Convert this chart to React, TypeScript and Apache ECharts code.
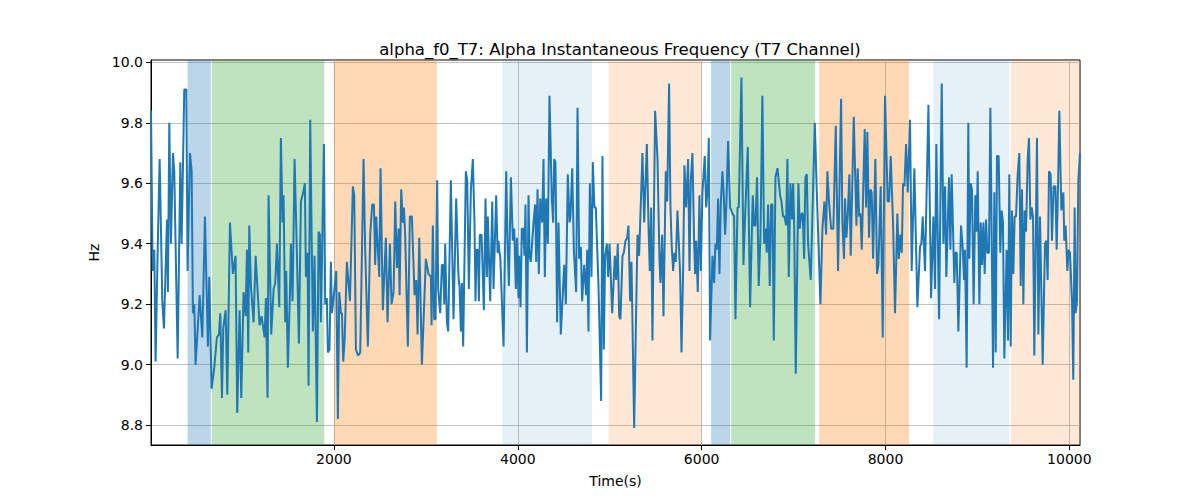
import React, { useEffect, useRef } from "react";
import * as echarts from "echarts";

const titleText = "alpha_f0_T7: Alpha Instantaneous Frequency (T7 Channel)";
const xTicks = [2000, 4000, 6000, 8000, 10000];
const yTicks = [8.8, 9.0, 9.2, 9.4, 9.6, 9.8, 10.0];

const bandStart = [408, 673, 2000, 3834, 4987, 6103, 6321, 7278, 8521, 9362];
const bandEnd = [662, 1895, 3120, 4806, 6002, 6310, 7234, 8257, 9347, 10116];
const bandKind = ["blue", "green", "orange", "paleBlue", "paleOrange", "blue", "green", "orange", "paleBlue", "paleOrange"];

// [time (s), frequency (Hz)]
const alphaF0: [number, number][] = [
  [10, 9.84], [28, 9.31], [46, 9.38], [60, 9.01], [82, 9.37], [104, 9.68], [133, 9.21], [151, 9.12],
  [184, 9.48], [194, 9.24], [209, 9.80], [227, 9.40], [249, 9.70], [263, 9.64], [300, 9.02], [329, 9.67],
  [343, 9.40], [372, 9.91], [394, 9.91], [408, 9.31], [434, 9.70], [452, 9.64], [466, 9.17], [481, 9.20],
  [495, 9.00], [539, 9.23], [568, 9.09], [597, 9.49], [629, 9.06], [644, 9.29], [669, 8.92], [698, 8.99],
  [727, 9.09], [749, 9.10], [764, 9.17], [782, 8.89], [796, 9.12], [822, 9.18], [840, 8.90], [869, 9.47],
  [901, 9.30], [930, 9.36], [948, 8.84], [974, 9.18], [992, 8.89], [1017, 9.24], [1039, 9.16], [1054, 9.38],
  [1068, 9.04], [1079, 9.46], [1097, 9.26], [1126, 9.14], [1148, 9.36], [1191, 9.13], [1213, 9.16], [1246, 9.09],
  [1260, 9.22], [1278, 8.89], [1289, 9.56], [1318, 9.10], [1344, 9.25], [1362, 9.27], [1380, 9.40], [1405, 9.19],
  [1423, 9.75], [1441, 9.47], [1452, 9.56], [1470, 9.14], [1481, 9.31], [1499, 8.99], [1521, 9.23], [1532, 9.40],
  [1550, 9.21], [1572, 9.68], [1597, 9.37], [1619, 9.07], [1641, 9.54], [1666, 9.57], [1684, 9.60], [1695, 9.29],
  [1713, 9.37], [1724, 8.93], [1742, 9.81], [1760, 9.37], [1771, 9.11], [1789, 9.36], [1815, 8.81], [1833, 9.44],
  [1847, 9.43], [1858, 9.14], [1891, 9.73], [1905, 9.20], [1923, 9.22], [1934, 9.04], [1952, 9.05], [1967, 9.34],
  [1978, 9.17], [1996, 9.22], [2025, 9.31], [2043, 8.82], [2058, 9.24], [2076, 9.17], [2087, 9.17], [2101, 9.01],
  [2116, 9.08], [2141, 9.34], [2174, 9.21], [2206, 9.59], [2221, 9.56], [2239, 9.05], [2261, 9.03], [2286, 9.04],
  [2322, 9.68], [2340, 9.38], [2369, 9.06], [2395, 9.43], [2416, 9.53], [2435, 9.53], [2449, 9.33], [2460, 9.49],
  [2493, 9.29], [2507, 9.65], [2532, 9.18], [2565, 9.42], [2583, 9.14], [2609, 9.40], [2627, 9.20], [2649, 9.24],
  [2667, 9.54], [2685, 9.32], [2703, 9.45], [2714, 9.23], [2732, 9.58], [2750, 9.47], [2761, 9.52], [2775, 9.43],
  [2804, 9.06], [2826, 9.49], [2848, 9.49], [2877, 9.23], [2895, 9.28], [2910, 9.10], [2928, 9.42], [2957, 9.00],
  [3000, 9.35], [3029, 9.30], [3055, 9.29], [3062, 9.13], [3076, 9.46], [3091, 9.15], [3105, 9.15], [3123, 9.61],
  [3134, 9.25], [3156, 9.17], [3174, 9.33], [3189, 9.33], [3200, 9.20], [3210, 9.40], [3229, 9.14], [3243, 9.11],
  [3272, 9.61], [3301, 9.15], [3330, 9.55], [3355, 9.29], [3366, 9.26], [3381, 9.11], [3392, 9.27], [3406, 9.06],
  [3435, 9.64], [3450, 9.61], [3468, 9.25], [3490, 9.58], [3511, 9.68], [3529, 9.47], [3540, 9.21], [3551, 9.38],
  [3566, 9.38], [3577, 9.21], [3587, 9.43], [3606, 9.43], [3631, 9.18], [3649, 9.55], [3664, 9.29], [3674, 9.49],
  [3700, 9.21], [3722, 9.54], [3736, 9.25], [3765, 9.56], [3780, 9.37], [3790, 9.41], [3801, 9.37], [3809, 9.36],
  [3845, 9.06], [3874, 9.64], [3888, 9.41], [3903, 9.26], [3925, 9.62], [3946, 9.41], [3961, 9.45], [3979, 9.25],
  [3990, 9.42], [4008, 9.22], [4015, 9.36], [4030, 9.19], [4044, 9.45], [4059, 9.45], [4073, 9.36], [4084, 9.53],
  [4099, 9.04], [4117, 9.56], [4128, 9.36], [4142, 9.34], [4171, 9.47], [4189, 9.53], [4200, 9.34], [4215, 9.58],
  [4229, 9.30], [4244, 9.55], [4265, 9.47], [4280, 9.68], [4294, 9.29], [4309, 9.55], [4327, 9.40], [4345, 9.89],
  [4370, 9.55], [4385, 9.47], [4396, 9.68], [4410, 9.67], [4428, 9.14], [4443, 9.47], [4468, 9.10], [4505, 9.33],
  [4523, 9.20], [4544, 9.63], [4563, 9.47], [4573, 9.49], [4592, 9.65], [4610, 9.38], [4635, 9.24], [4650, 9.85],
  [4668, 9.35], [4686, 9.39], [4700, 9.21], [4722, 9.33], [4744, 9.23], [4755, 9.38], [4769, 9.11], [4784, 9.60],
  [4802, 9.29], [4816, 9.67], [4834, 9.52], [4849, 9.52], [4878, 9.26], [4907, 8.88], [4921, 9.69], [4936, 9.05],
  [4950, 9.36], [4969, 9.40], [4983, 9.29], [4998, 9.40], [5027, 9.17], [5045, 9.29], [5056, 9.36], [5070, 9.28],
  [5088, 9.40], [5103, 9.16], [5117, 9.15], [5139, 9.36], [5153, 9.37], [5172, 9.41], [5190, 9.42], [5204, 9.46],
  [5222, 9.21], [5237, 9.34], [5266, 8.79], [5302, 9.43], [5320, 9.36], [5338, 9.53], [5356, 9.70], [5375, 9.47],
  [5404, 9.73], [5422, 9.46], [5436, 9.31], [5451, 9.52], [5465, 9.08], [5494, 9.84], [5520, 9.68], [5541, 9.35],
  [5552, 9.27], [5570, 9.43], [5585, 9.16], [5610, 9.64], [5625, 9.54], [5646, 9.93], [5661, 9.52], [5675, 9.39],
  [5690, 9.31], [5704, 9.37], [5719, 9.34], [5737, 9.51], [5766, 9.30], [5781, 9.04], [5799, 9.32], [5813, 9.66],
  [5831, 9.52], [5853, 9.68], [5868, 9.31], [5882, 9.61], [5900, 9.70], [5918, 9.41], [5929, 9.30], [5940, 9.41],
  [5958, 9.24], [5976, 9.56], [5991, 9.31], [6009, 9.57], [6034, 9.69], [6049, 9.52], [6063, 9.57], [6078, 9.75],
  [6092, 9.08], [6118, 9.36], [6136, 9.27], [6150, 9.40], [6165, 9.38], [6179, 9.55], [6194, 9.30], [6208, 9.53],
  [6226, 9.64], [6241, 9.56], [6255, 9.43], [6270, 9.54], [6288, 9.74], [6310, 9.52], [6335, 9.50], [6353, 9.49],
  [6368, 9.15], [6390, 9.52], [6404, 9.52], [6433, 9.95], [6455, 9.33], [6469, 9.46], [6502, 9.72], [6527, 9.19],
  [6556, 9.56], [6571, 9.46], [6585, 9.46], [6603, 9.62], [6621, 9.26], [6640, 9.43], [6661, 9.89], [6680, 9.40],
  [6694, 9.45], [6709, 9.37], [6723, 9.53], [6741, 9.26], [6756, 9.53], [6770, 9.53], [6785, 9.08], [6803, 9.62],
  [6825, 9.65], [6854, 9.56], [6868, 9.54], [6886, 9.49], [6901, 9.49], [6919, 9.46], [6933, 9.68], [6948, 9.29],
  [6966, 9.60], [6984, 9.48], [6995, 9.60], [7006, 9.48], [7024, 8.97], [7042, 9.38], [7053, 9.60], [7067, 9.45],
  [7086, 9.50], [7100, 9.50], [7115, 9.35], [7129, 9.62], [7144, 9.63], [7158, 9.40], [7187, 9.28], [7231, 9.80],
  [7252, 9.58], [7292, 9.20], [7314, 9.45], [7336, 9.54], [7354, 9.43], [7368, 9.64], [7386, 9.54], [7408, 9.45],
  [7433, 9.45], [7459, 9.79], [7484, 9.31], [7517, 9.88], [7531, 9.47], [7549, 9.35], [7560, 9.55], [7575, 9.42],
  [7589, 9.49], [7607, 9.63], [7622, 9.36], [7655, 9.82], [7684, 9.46], [7698, 9.65], [7713, 9.49], [7727, 9.50],
  [7742, 9.38], [7774, 9.78], [7789, 9.52], [7803, 9.77], [7821, 9.42], [7836, 9.58], [7850, 9.57], [7865, 9.35],
  [7890, 9.68], [7908, 9.30], [7923, 9.33], [7948, 9.59], [7970, 9.09], [7995, 9.89], [8024, 9.54], [8039, 9.54],
  [8057, 9.69], [8082, 9.47], [8104, 9.17], [8129, 9.50], [8144, 9.35], [8162, 9.43], [8177, 9.37], [8191, 9.60],
  [8206, 9.59], [8224, 9.73], [8242, 9.57], [8267, 9.81], [8285, 9.31], [8314, 9.65], [8347, 9.19], [8376, 9.39],
  [8390, 9.40], [8405, 9.49], [8430, 9.31], [8467, 9.86], [8496, 9.22], [8521, 9.49], [8539, 9.25], [8553, 9.73],
  [8583, 9.15], [8612, 9.93], [8630, 9.40], [8648, 9.59], [8662, 9.29], [8691, 9.62], [8706, 9.38], [8720, 9.63],
  [8749, 9.27], [8760, 9.37], [8775, 9.37], [8793, 9.11], [8822, 9.46], [8840, 9.39], [8854, 9.28], [8865, 9.38],
  [8883, 8.99], [8901, 9.80], [8912, 9.35], [8927, 9.60], [8941, 9.58], [8959, 9.20], [8977, 9.56], [8992, 9.44],
  [9003, 9.64], [9021, 9.20], [9036, 9.47], [9050, 9.33], [9065, 9.47], [9079, 9.30], [9094, 9.48], [9108, 9.37],
  [9126, 9.37], [9141, 9.85], [9170, 8.99], [9184, 9.57], [9199, 9.04], [9213, 9.69], [9231, 9.69], [9249, 9.37],
  [9264, 9.51], [9278, 9.47], [9293, 9.02], [9318, 9.38], [9333, 9.08], [9347, 9.63], [9362, 9.06], [9376, 9.51],
  [9391, 9.30], [9405, 9.49], [9420, 9.49], [9438, 9.63], [9456, 9.70], [9471, 9.26], [9485, 9.58], [9500, 9.20],
  [9514, 9.51], [9529, 9.44], [9547, 9.68], [9561, 9.75], [9576, 9.48], [9590, 9.52], [9605, 9.49], [9619, 9.03],
  [9648, 9.75], [9663, 9.10], [9681, 9.49], [9710, 9.00], [9735, 9.40], [9750, 9.41], [9764, 9.28], [9779, 9.64],
  [9797, 9.63], [9811, 9.41], [9829, 9.59], [9848, 9.59], [9862, 9.38], [9877, 9.59], [9891, 9.84], [9913, 9.51],
  [9935, 9.57], [9945, 9.41], [9960, 9.46], [9978, 9.31], [9993, 9.38], [10007, 9.37], [10029, 9.21], [10043, 8.95],
  [10058, 9.52], [10069, 9.17], [10083, 9.21], [10098, 9.61], [10116, 9.70],
];

const bandColor: Record<string, string> = {
  blue: "rgba(31,119,180,0.3)",
  green: "rgba(44,160,44,0.3)",
  orange: "rgba(255,127,14,0.3)",
  paleBlue: "rgba(31,119,180,0.11)",
  paleOrange: "rgba(255,127,14,0.17)",
};

const FONT = "DejaVu Sans";

export default function App() {
  const ref = useRef<HTMLDivElement>(null);
  useEffect(() => {
    const chart = echarts.init(ref.current!, null, { renderer: "svg" });
    chart.setOption({
      animation: false,
      backgroundColor: "#ffffff",
      title: {
        text: titleText,
        left: 615,
        top: 36,
        textAlign: "center",
        textStyle: { fontFamily: FONT, fontSize: 16.5, fontWeight: "normal", color: "#000" },
      },
      grid: {
        left: 151,
        right: 120,
        top: 60,
        bottom: 55,
        show: true,
        borderColor: "#000",
        borderWidth: 1,
        backgroundColor: "transparent",
      },
      xAxis: {
        type: "value",
        min: 10,
        max: 10116,
        z: 1,
        name: "Time(s)",
        nameLocation: "middle",
        nameGap: 29,
        nameTextStyle: { fontFamily: FONT, fontSize: 14, color: "#000" },
        axisLine: { show: true, onZero: false, lineStyle: { color: "#000", width: 1 } },
        axisTick: { show: true, length: 5, customValues: xTicks, lineStyle: { color: "#000" } },
        axisLabel: {
          customValues: xTicks,
          color: "#000",
          fontSize: 14,
          margin: 7,
          fontFamily: FONT,
          formatter: (v: number) => String(v),
        },
        splitLine: { show: true, lineStyle: { color: "#b0b0b0", width: 0.8 } },
      },
      yAxis: {
        type: "value",
        min: 8.734,
        max: 10.008,
        z: 1,
        name: "Hz",
        nameLocation: "middle",
        nameGap: 45,
        nameTextStyle: { fontFamily: FONT, fontSize: 14, color: "#000" },
        axisLine: { show: true, onZero: false, lineStyle: { color: "#000", width: 1 } },
        axisTick: { show: true, length: 5, customValues: yTicks, lineStyle: { color: "#000" } },
        axisLabel: {
          customValues: yTicks,
          color: "#000",
          fontSize: 14,
          margin: 8,
          fontFamily: FONT,
          formatter: (v: number) => v.toFixed(1),
        },
        splitLine: { show: true, lineStyle: { color: "#b0b0b0", width: 0.8 } },
      },
      series: [
        {
          type: "line",
          data: [],
          z: 0,
          silent: true,
          markArea: {
            silent: true,
            data: bandStart.map((s, i) => [
              { xAxis: s, itemStyle: { color: bandColor[bandKind[i]] } },
              { xAxis: bandEnd[i] },
            ]),
          },
        },
        {
          type: "line",
          data: alphaF0,
          z: 2,
          symbol: "none",
          showSymbol: false,
          silent: true,
          lineStyle: { color: "#1f77b4", width: 2 },
        },
      ],
    });
    return () => chart.dispose();
  }, []);
  return (
    <div
      ref={ref}
      style={{ position: "absolute", left: 0, top: 0, width: 1200, height: 500 }}
    />
  );
}
